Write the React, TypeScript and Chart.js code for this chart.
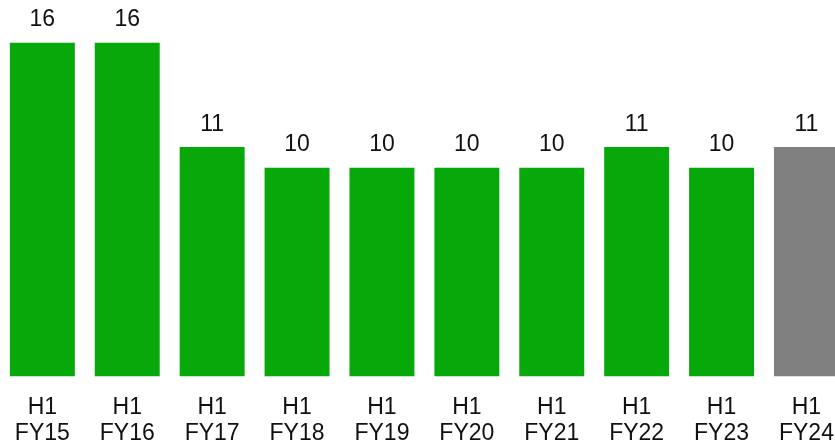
import React, { useEffect, useRef } from "react";
import { Chart, registerables } from "chart.js";

Chart.register(...registerables);

const categories: string[][] = [
  ["H1", "FY15"], ["H1", "FY16"], ["H1", "FY17"], ["H1", "FY18"], ["H1", "FY19"],
  ["H1", "FY20"], ["H1", "FY21"], ["H1", "FY22"], ["H1", "FY23"], ["H1", "FY24"],
];
const values: number[] = [16, 16, 11, 10, 10, 10, 10, 11, 10, 11];
const barColors: string[] = [
  "#07a80a", "#07a80a", "#07a80a", "#07a80a", "#07a80a",
  "#07a80a", "#07a80a", "#07a80a", "#07a80a", "#808080",
];

const FONT = "Liberation Sans, Arial, sans-serif";

const valueLabels = {
  id: "valueLabels",
  afterDatasetsDraw(chart: any) {
    const ctx = chart.ctx;
    const meta = chart.getDatasetMeta(0);
    ctx.save();
    ctx.fillStyle = "#111111";
    ctx.font = `23px ${FONT}`;
    ctx.textAlign = "center";
    ctx.textBaseline = "alphabetic";
    meta.data.forEach((bar: any, i: number) => {
      ctx.fillText(String(values[i]), bar.x, bar.y - 16.5);
    });
    ctx.restore();
  },
};

export default function App() {
  const ref = useRef<HTMLCanvasElement | null>(null);
  useEffect(() => {
    if (!ref.current) return;
    const chart = new Chart(ref.current, {
      type: "bar",
      data: {
        labels: categories,
        datasets: [
          {
            data: values,
            backgroundColor: barColors,
            borderWidth: 0,
            categoryPercentage: 1,
            barPercentage: 0.765,
          },
        ],
      },
      options: {
        animation: false,
        responsive: true,
        maintainAspectRatio: false,
        layout: { padding: { top: 1, bottom: 0, left: 0, right: 0 } },
        plugins: { legend: { display: false }, tooltip: { enabled: false } },
        scales: {
          x: {
            grid: { display: false, drawTicks: false },
            border: { display: false },
            ticks: {
              color: "#111111",
              font: { family: FONT, size: 23, lineHeight: 1.145 },
              padding: 18,
              maxRotation: 0,
              autoSkip: false,
            },
          },
          y: {
            display: false,
            min: 0,
            max: 18,
          },
        },
      },
      plugins: [valueLabels],
    });
    return () => chart.destroy();
  }, []);
  return (
    <div style={{ position: "fixed", left: 0, top: 0, width: 835, height: 443, overflow: "hidden", background: "#fff" }}>
      <div style={{ position: "absolute", left: -3.4, top: 0, width: 854.8, height: 465.1 }}>
        <canvas ref={ref} />
      </div>
    </div>
  );
}
